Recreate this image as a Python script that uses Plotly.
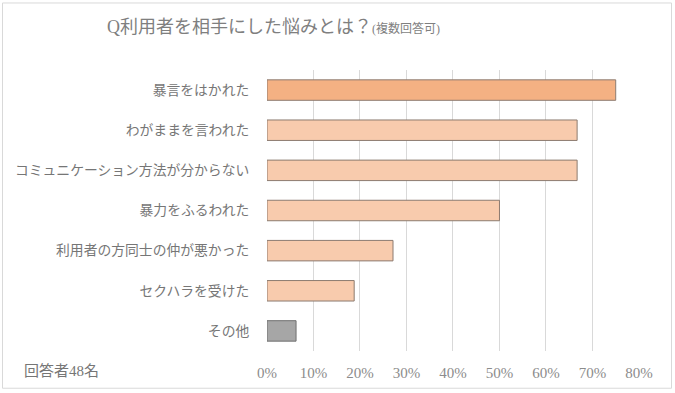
import plotly.graph_objects as go

categories = ["暴言をはかれた", "わがままを言われた", "コミュニケーション方法が分からない",
              "暴力をふるわれた", "利用者の方同士の仲が悪かった", "セクハラを受けた", "その他"]
values = [0.75, 0.667, 0.667, 0.50, 0.271, 0.1875, 0.0625]
bar_colors = ["#F4B183", "#F8CBAD", "#F8CBAD", "#F8CBAD", "#F8CBAD", "#F8CBAD", "#A6A6A6"]
line_colors = ["#8c7b70", "#8c7b70", "#8c7b70", "#8c7b70", "#8c7b70", "#8c7b70", "#707070"]
tick_vals = [0, 0.1, 0.2, 0.3, 0.4, 0.5, 0.6, 0.7, 0.8]
title_main = "Q利用者を相手にした悩みとは？"
title_sub = "(複数回答可)"
note_text = "回答者48名"

W, H = 675, 393
ml, mr, mt, mb = 267, 36, 70, 40

fig = go.Figure(go.Bar(
    x=values, y=categories, orientation="h",
    marker=dict(color=bar_colors, line=dict(color=line_colors, width=1)),
    hoverinfo="skip",
))

fig.update_layout(
    width=W, height=H,
    margin=dict(l=ml, r=mr, t=mt, b=mb),
    paper_bgcolor="white", plot_bgcolor="white",
    bargap=0.49, showlegend=False,
    xaxis=dict(range=[0, 0.8001], tickvals=tick_vals, tickformat=".0%",
               showgrid=True, gridcolor="#d9d9d9", gridwidth=1, zeroline=False,
               showline=False,
               tickfont=dict(family="Liberation Serif, Noto Sans CJK JP", size=15, color="#8c8c8c"),
               ticks="outside", ticklen=8, tickcolor="rgba(0,0,0,0)"),
    yaxis=dict(autorange="reversed", showgrid=False, zeroline=False, showline=False,
               tickfont=dict(family="Noto Sans CJK JP", size=13.8, color="#767676"),
               ticks="outside", ticklen=14, tickcolor="rgba(0,0,0,0)"),
)

pw = W - ml - mr
ph = H - mt - mb

def px_to_paper_x(px):
    return (px - ml) / pw

def px_to_paper_y(py):
    return (H - mb - py) / ph

fig.add_annotation(
    text=title_main + "<span style='font-size:12px'>" + title_sub + "</span>",
    xref="paper", yref="paper", x=px_to_paper_x(273), y=px_to_paper_y(27),
    xanchor="center", yanchor="middle", showarrow=False,
    font=dict(family="Liberation Serif, Noto Sans CJK JP", size=18, color="#7f7f7f"),
)
fig.add_annotation(
    text=note_text, xref="paper", yref="paper",
    x=px_to_paper_x(22), y=px_to_paper_y(373),
    xanchor="left", yanchor="middle", showarrow=False,
    font=dict(family="Liberation Serif, Noto Sans CJK JP", size=15, color="#767676"),
)
fig.add_shape(type="rect", xref="paper", yref="paper",
              x0=px_to_paper_x(2.5), x1=px_to_paper_x(671.5),
              y0=px_to_paper_y(2.5), y1=px_to_paper_y(390.5),
              line=dict(color="#d9d9d9", width=1), fillcolor="rgba(0,0,0,0)", layer="below")

fig.write_html("out.html", config={"displayModeBar": False},
               post_script="document.body.style.margin='0';document.body.style.padding='0';")
